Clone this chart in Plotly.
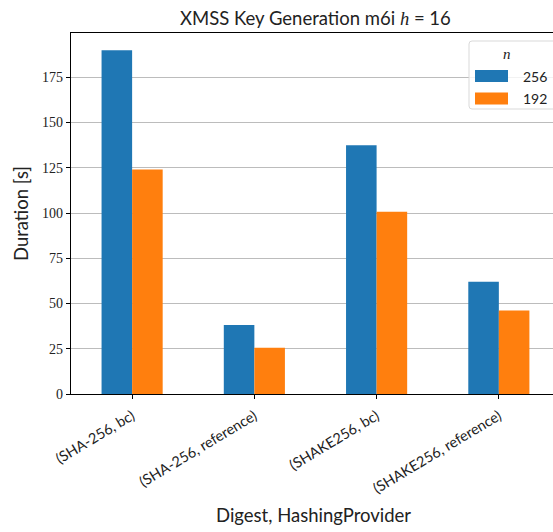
import plotly.graph_objects as go

categories = ["(SHA-256, bc)", "(SHA-256, reference)", "(SHAKE256, bc)", "(SHAKE256, reference)"]
series_names = ["256", "192"]
values_256 = [190.0, 38.2, 137.5, 62.0]
values_192 = [124.1, 25.5, 100.7, 46.1]
colors = ["#1f77b4", "#ff7f0e"]

W, H = 553, 532
L, R_PX, T, B = 71, 553, 33, 394
PW, PH = R_PX - L, B - T

def px_x(x):
    return (x - L) / PW

def px_y(y):
    return (B - y) / PH

SANS = "Lato, 'Open Sans', sans-serif"
SERIF = "'Liberation Serif', 'DejaVu Serif', serif"

fig = go.Figure()
for name, vals, col in zip(series_names, [values_256, values_192], colors):
    fig.add_trace(go.Bar(x=list(range(len(categories))), y=vals, name=name,
                         marker=dict(color=col, line=dict(width=0)), showlegend=False))

fig.update_layout(
    width=W, height=H,
    margin=dict(l=L, r=W - R_PX, t=T, b=H - B, pad=0),
    plot_bgcolor="white", paper_bgcolor="white",
    barmode="group", bargap=0.5, bargroupgap=0,
    font=dict(family=SANS, size=13, color="#222"),
)
fig.update_xaxes(
    range=[-0.5, 3.443], tickmode="array", tickvals=list(range(len(categories))),
    ticktext=categories, tickangle=-31, ticks="outside", ticklen=4, tickcolor="black",
    showline=True, linecolor="black", linewidth=1.2, mirror=True, showgrid=False,
    tickfont=dict(family=SANS, size=14.5, color="#222"), zeroline=False,
    ticklabelstandoff=3,
)
fig.update_yaxes(
    range=[0, 199.5], tickmode="array", tickvals=[0, 25, 50, 75, 100, 125, 150, 175],
    ticks="outside", ticklen=4, tickcolor="black",
    showline=True, linecolor="black", linewidth=1.2, mirror=False,
    showgrid=True, gridcolor="#bcbcbc", gridwidth=1, zeroline=False,
    tickfont=dict(family=SERIF, size=14, color="#222"),
    title=dict(text="Duration [s]", font=dict(family=SANS, size=18.5, color="#222"), standoff=8),
)

ann = []
ann.append(dict(text="XMSS Key Generation m6i <span style=\"font-family:'Liberation Serif';font-style:italic\">h</span> = 16",
                x=px_x(315), y=px_y(18), xref="paper", yref="paper",
                showarrow=False, xanchor="center", yanchor="middle",
                font=dict(family=SANS, size=18.5, color="#222")))
ann.append(dict(text="Digest, HashingProvider", x=px_x(313), y=px_y(515), xref="paper", yref="paper",
                showarrow=False, xanchor="center", yanchor="middle",
                font=dict(family=SANS, size=18.5, color="#222")))

# legend (drawn manually to match wide patches)
lx0, lx1, ly0, ly1, rr = 469, 556, 41, 109, 3
path = (f"M {px_x(lx0+rr)},{px_y(ly0)} L {px_x(lx1-rr)},{px_y(ly0)} "
        f"Q {px_x(lx1)},{px_y(ly0)} {px_x(lx1)},{px_y(ly0+rr)} L {px_x(lx1)},{px_y(ly1-rr)} "
        f"Q {px_x(lx1)},{px_y(ly1)} {px_x(lx1-rr)},{px_y(ly1)} L {px_x(lx0+rr)},{px_y(ly1)} "
        f"Q {px_x(lx0)},{px_y(ly1)} {px_x(lx0)},{px_y(ly1-rr)} L {px_x(lx0)},{px_y(ly0+rr)} "
        f"Q {px_x(lx0)},{px_y(ly0)} {px_x(lx0+rr)},{px_y(ly0)} Z")
shapes = [dict(type="path", path=path, xref="paper", yref="paper",
               line=dict(color="#d9d9d9", width=1), fillcolor="rgba(255,255,255,0.8)", layer="above")]
ann.append(dict(text="<i>n</i>", x=px_x(507), y=px_y(54), xref="paper", yref="paper", showarrow=False,
                xanchor="center", yanchor="middle", font=dict(family=SERIF, size=15, color="#222")))
for i, (name, col) in enumerate(zip(series_names, colors)):
    yc = 76 + i * 22.5
    shapes.append(dict(type="rect", xref="paper", yref="paper", x0=px_x(475), x1=px_x(508),
                       y0=px_y(yc - 6), y1=px_y(yc + 6), fillcolor=col, line=dict(width=0), layer="above"))
    ann.append(dict(text=name, x=px_x(521), y=px_y(yc), xref="paper", yref="paper", showarrow=False,
                    xanchor="left", yanchor="middle", font=dict(family=SANS, size=14, color="#222")))

fig.update_layout(annotations=ann, shapes=shapes)
fig.write_html("out.html")
